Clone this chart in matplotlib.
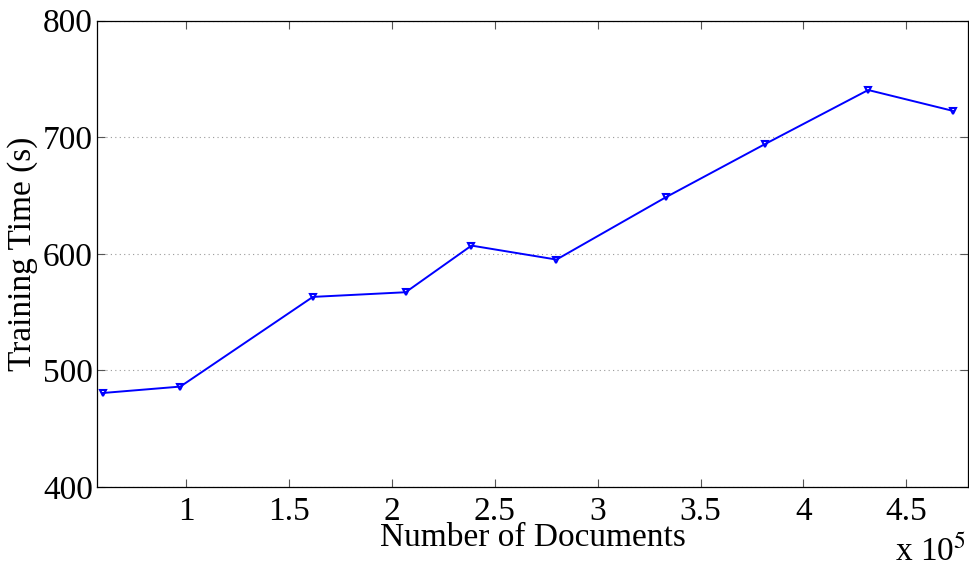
import numpy as np
import matplotlib
matplotlib.use('Agg')
import matplotlib.pyplot as plt

# data (documents in units of 10^5)
docs = [0.595, 0.972, 1.616, 2.067, 2.387, 2.800, 3.332, 3.813, 4.315, 4.727]
train_time = [480.6, 486.1, 563.0, 567.0, 607.0, 595.0, 648.5, 694.0, 740.4, 722.5]

xticks = [1, 1.5, 2, 2.5, 3, 3.5, 4, 4.5]
xtick_labels = ['1', '1.5', '2', '2.5', '3', '3.5', '4', '4.5']
yticks = [400, 500, 600, 700, 800]

plt.rcParams['font.family'] = ['Liberation Serif', 'DejaVu Serif']
plt.rcParams['mathtext.fontset'] = 'stix'

fig = plt.figure(figsize=(9.69, 5.64), dpi=100)
ax = fig.add_axes([97 / 969, 1 - 487 / 564, 871 / 969, 466.5 / 564])

ax.plot(docs, train_time, color='blue', lw=1.4, marker='v', ms=5,
        mfc='none', mec='blue', mew=1.5)

ax.set_xlim(0.567, 4.80)
ax.set_ylim(400, 800)
ax.set_xticks(xticks)
ax.set_xticklabels(xtick_labels)
ax.set_yticks(yticks)

# dotted grid only on y
ax.yaxis.grid(True, linestyle=(0, (1, 3)), color='#999999', lw=0.8)
ax.set_axisbelow(True)

ax.tick_params(direction='in', top=True, right=True, length=6, width=0.8,
               labelsize=24, color='#555555')
ax.tick_params(axis='x', pad=7)
ax.tick_params(axis='y', pad=3)
for s in ax.spines.values():
    s.set_linewidth(0.9)

ax.set_xlabel('Number of Documents', fontsize=24)
ax.xaxis.label.set_va('center')
ax.xaxis.set_label_coords(0.5, -0.108)
ax.set_ylabel('Training Time (s)', fontsize=24)
ax.yaxis.label.set_va('center')
ax.yaxis.set_label_coords(-0.085, 0.5)

fig.text(966 / 969, 1 - 561 / 564, r'x 10$^5$', fontsize=24, ha='right', va='baseline')

fig.savefig('out.png', dpi=100)
